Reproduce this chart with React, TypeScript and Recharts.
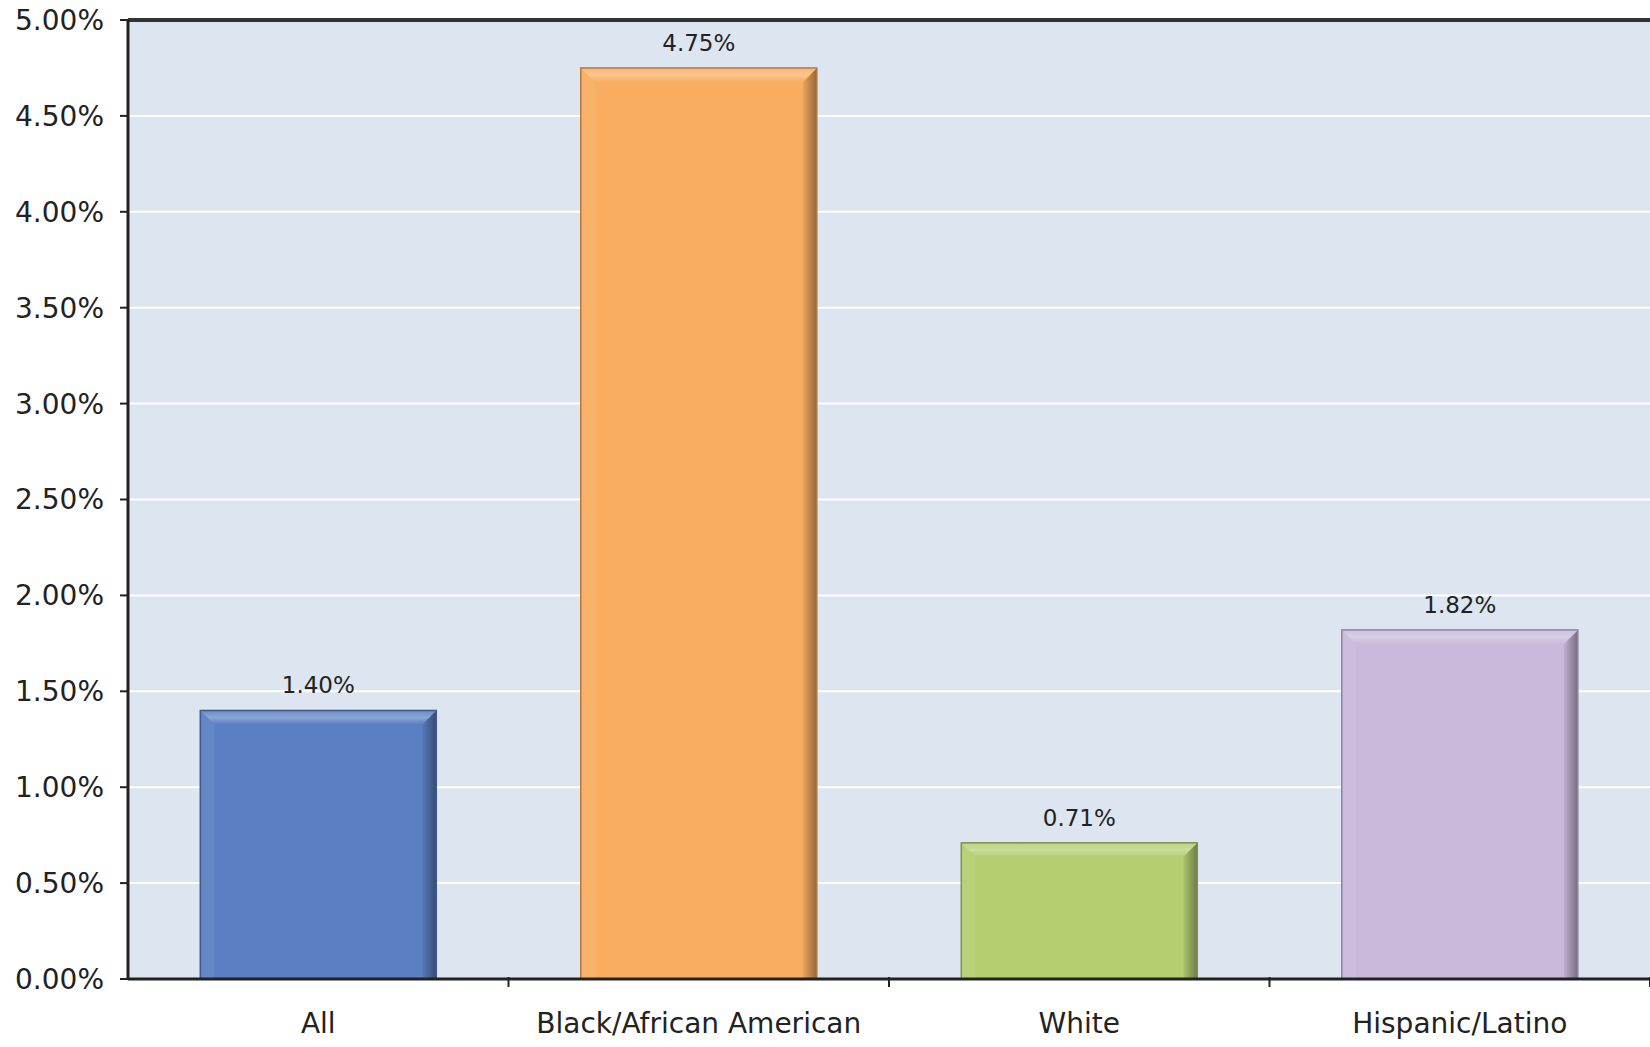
import React from 'react';
import {
    BarChart, Bar, XAxis, YAxis, CartesianGrid, Cell, LabelList, ReferenceLine
} from 'recharts';

const groups = ['All', 'Black/African American', 'White', 'Hispanic/Latino'];
const rates = [1.40, 4.75, 0.71, 1.82];
const barColors = ['#5a7fc3', '#f9ad61', '#b4cf72', '#c9b9db'];
const yTicks = [0, 0.5, 1, 1.5, 2, 2.5, 3, 3.5, 4, 4.5, 5];

const data = groups.map((g, i) => ({ group: g, rate: rates[i], color: barColors[i] }));

const FONT = '"DejaVu Sans", sans-serif';

// lighten / darken a hex colour by mixing with white or black
const shade = (hex: string, amt: number) => {
    const n = parseInt(hex.slice(1), 16);
    const mix = (c: number) => Math.round(amt >= 0 ? c + (255 - c) * amt : c * (1 + amt));
    const r = mix((n >> 16) & 255), g = mix((n >> 8) & 255), b = mix(n & 255);
    return `rgb(${r},${g},${b})`;
};

const BevelBar = (props: any) => {
    const { x, y, width, height, payload, index } = props;
    if (!height || height <= 0) return null;
    const c = payload.color;
    const b = Math.min(14, height / 2);
    const x2 = x + width, y2 = y + height;
    const gid = `bev-top-${index}`;
    const rid = `bev-right-${index}`;
    return (
        <g>
            <defs>
                <linearGradient id={gid} x1="0" y1="0" x2="0" y2="1">
                    <stop offset="0%" stopColor={shade(c, 0.1)} />
                    <stop offset="50%" stopColor={shade(c, 0.3)} />
                    <stop offset="100%" stopColor={c} />
                </linearGradient>
                <linearGradient id={rid} x1="0" y1="0" x2="1" y2="0">
                    <stop offset="0%" stopColor={shade(c, -0.05)} />
                    <stop offset="100%" stopColor={shade(c, -0.4)} />
                </linearGradient>
            </defs>
            <rect x={x} y={y} width={width} height={height} fill={c} />
            <polygon points={`${x},${y} ${x + b},${y + b} ${x + b},${y2} ${x},${y2}`} fill={shade(c, 0.06)} />
            <polygon points={`${x2},${y} ${x2},${y2} ${x2 - b},${y2} ${x2 - b},${y + b}`} fill={`url(#${rid})`} />
            <polygon points={`${x},${y} ${x2},${y} ${x2 - b},${y + b} ${x + b},${y + b}`} fill={`url(#${gid})`} />
            <rect x={x} y={y} width={width} height={height} fill="none" stroke={shade(c, -0.3)} strokeWidth={1.5} />
        </g>
    );
};

const CategoryTick = (props: any) => {
    const { x, y, payload } = props;
    const half = payload.offset ?? 190.5;
    return (
        <g>
            <line x1={x + half} y1={y - 28} x2={x + half} y2={y - 18} stroke="#222" strokeWidth={2} />
            <text x={x} y={y + 28} textAnchor="middle" fill="#222" fontSize={28} fontFamily={FONT}>
                {payload.value}
            </text>
        </g>
    );
};

export default function App() {
    return (
        <div style={{ width: 1650, height: 1047, background: '#fff', position: 'absolute', left: 0, top: 0 }}>
            <style>{`body{margin:0}`}</style>
            <BarChart
                width={1650}
                height={1047}
                data={data}
                barCategoryGap="19%"
                margin={{ top: 20, right: 0, left: 0, bottom: 0 }}
            >
                <CartesianGrid vertical={false} stroke="#ffffff" strokeWidth={2} fill="#dde5f1" />
                <XAxis
                    dataKey="group"
                    height={68}
                    axisLine={{ stroke: '#222', strokeWidth: 3 }}
                    tickLine={false}
                    tick={<CategoryTick />}
                    tickMargin={20}
                    interval={0}
                />
                <YAxis
                    width={128}
                    domain={[0, 5]}
                    ticks={yTicks}
                    interval={0}
                    axisLine={{ stroke: '#222', strokeWidth: 3 }}
                    tickLine={{ stroke: '#222', strokeWidth: 2 }}
                    tickSize={8}
                    tickMargin={16}
                    tickFormatter={(v: number) => `${v.toFixed(2)}%`}
                    tick={{ fill: '#222', fontSize: 28, fontFamily: FONT }}
                />
                <ReferenceLine y={5} stroke="#333" strokeWidth={4} />
                <Bar dataKey="rate" shape={<BevelBar />} isAnimationActive={false}>
                    {data.map((d) => <Cell key={d.group} fill={d.color} />)}
                    <LabelList
                        dataKey="rate"
                        position="top"
                        offset={17}
                        formatter={(v: any) => `${Number(v).toFixed(2)}%`}
                        style={{ fill: '#222', fontSize: 23, fontFamily: FONT }}
                    />
                </Bar>
            </BarChart>
        </div>
    );
}
